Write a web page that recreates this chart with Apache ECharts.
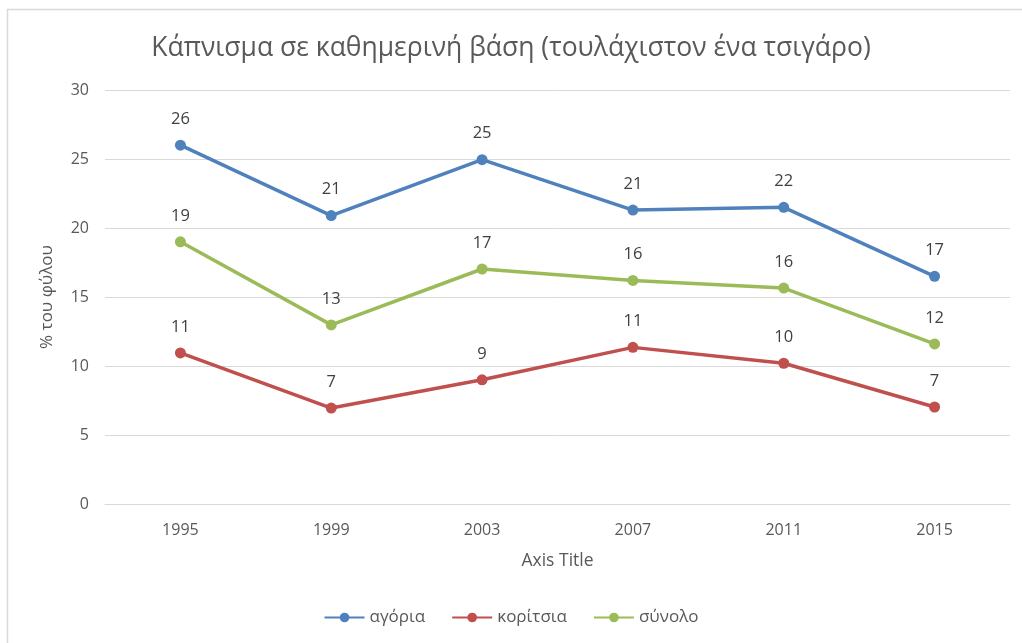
<!DOCTYPE html>
<html><head><meta charset="utf-8">
<script src="https://cdn.jsdelivr.net/npm/echarts@6/dist/echarts.min.js"></script>
<style>html,body{margin:0;padding:0;background:#fff}#c{width:1022px;height:643px}</style>
</head><body><div id="c"></div>
<script>
const categories = ['1995','1999','2003','2007','2011','2015'];
const boys = [26, 20.9, 24.95, 21.3, 21.5, 16.5];
const girls = [10.95, 6.95, 9, 11.35, 10.2, 7.03];
const total = [19, 12.98, 17.03, 16.2, 15.65, 11.6];
const seriesNames = ['αγόρια', 'κορίτσια', 'σύνολο'];
const colors = ['#4F81BD', '#C0504D', '#9BBB59'];
const font = "'Open Sans', 'Noto Sans', sans-serif";

const chart = echarts.init(document.getElementById('c'));
function mk(name, data, color) {
  return {
    name, type: 'line', data,
    symbol: 'circle', symbolSize: 11,
    lineStyle: { width: 3.5, color },
    itemStyle: { color },
    label: { show: true, position: 'top', distance: 12, color: '#404040', fontSize: 16.5, fontFamily: font,
      formatter: p => Math.round(p.value) },
    emphasis: { disabled: true }
  };
}
chart.setOption({
  animation: false,
  color: colors,
  graphic: [{ type: 'rect', shape: { x: 7.5, y: 9.5, width: 1030, height: 650 },
    style: { fill: 'none', stroke: '#d9d9d9', lineWidth: 1.5 }, silent: true }],
  title: { text: 'Κάπνισμα σε καθημερινή βάση (τουλάχιστον ένα τσιγάρο)', left: 'center', top: 30,
    textStyle: { fontFamily: font, fontSize: 26.5, fontWeight: 'normal', color: '#595959' } },
  legend: { bottom: 12, left: 'center', itemWidth: 40, itemHeight: 12, itemGap: 26,
    textStyle: { fontFamily: font, fontSize: 17, color: '#595959' }, data: seriesNames },
  grid: { left: 105, right: 12, top: 90, bottom: 139, containLabel: false },
  xAxis: { type: 'category', data: categories, boundaryGap: true,
    name: 'Axis Title', nameLocation: 'middle', nameGap: 48,
    nameTextStyle: { fontFamily: font, fontSize: 17.5, color: '#595959' },
    axisLine: { show: true, lineStyle: { color: '#d9d9d9' } }, axisTick: { show: false },
    axisLabel: { fontFamily: font, fontSize: 16, color: '#595959', margin: 18 } },
  yAxis: { type: 'value', min: 0, max: 30, interval: 5,
    name: '% του φύλου', nameLocation: 'middle', nameGap: 49, nameRotate: 90,
    nameTextStyle: { fontFamily: font, fontSize: 17, color: '#595959' },
    axisLine: { show: false }, axisTick: { show: false },
    splitLine: { lineStyle: { color: '#d9d9d9', width: 1 } },
    axisLabel: { fontFamily: font, fontSize: 16, color: '#595959', margin: 16 } },
  series: [mk(seriesNames[0], boys, colors[0]), mk(seriesNames[1], girls, colors[1]), mk(seriesNames[2], total, colors[2])]
});
</script></body></html>
